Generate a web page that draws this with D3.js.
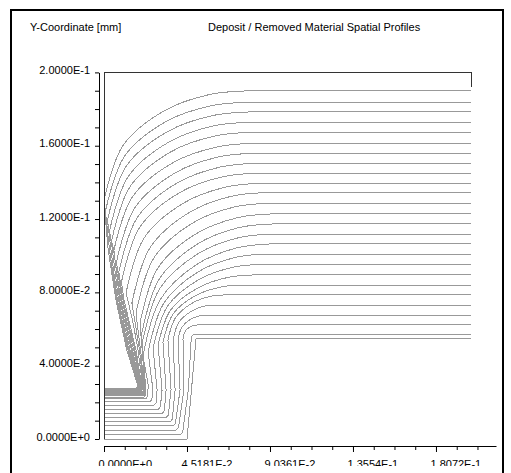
<!DOCTYPE html>
<html>
<head>
<meta charset="utf-8">
<script src="https://cdnjs.cloudflare.com/ajax/libs/d3/7.8.5/d3.min.js"></script>
<style>
  body { margin: 0; background: #fff; }
  svg { display: block; font-family: "Liberation Sans", Arial, sans-serif; font-size: 11px; }
  .profile { fill: none; stroke: #999; stroke-width: 1; shape-rendering: crispEdges; }
  .domain-box { fill: none; stroke: #333; stroke-width: 1; shape-rendering: crispEdges; }
  .axis path, .axis line { stroke: #000; }
  .axis text { fill: #000; font-size: 11px; font-family: "Liberation Sans", Arial, sans-serif; }
</style>
</head>
<body>
<div id="chart"></div>
<script>
var titleText = 'Deposit / Removed Material Spatial Profiles';
var yAxisTitle = 'Y-Coordinate [mm]';

var xTickValues = [0, 0.045181, 0.090361, 0.13554, 0.18072];
var xTickLabels = ['0.0000E+0', '4.5181E-2', '9.0361E-2', '1.3554E-1', '1.8072E-1'];
var yTickValues = [0, 0.04, 0.08, 0.12, 0.16, 0.2];
var yTickLabels = ['0.0000E+0', '4.0000E-2', '8.0000E-2', '1.2000E-1', '1.6000E-1', '2.0000E-1'];

// profile points are in 1e-3 mm; the last 6 points of each profile are the
// rounded top (arc start .. arc end) and the flat run to the right edge
var UNIT = 1e-3;
var domainBox = [[0, 0], [0, 200], [200, 200], [200, 192]];
var substrate = [[0, 0], [45.2, 0], [50.1, 54.6], [200, 54.6]];
var profiles = [
  [[0,2.2],[41.5,2.2],[42.8,3.5],[45.9,26.7],[47.5,55.3],[47.8,56.2],[48.6,56.8],[49.4,57.0],[50.0,57.1],[200,57.1]],
  [[0,4.9],[39.3,4.9],[40.6,6.3],[43.5,26.7],[43.0,54.6],[44.0,58.4],[46.2,60.8],[48.6,61.9],[50.6,62.2],[200,62.2]],
  [[0,7.3],[37.7,7.3],[38.9,8.6],[41.4,26.7],[40.3,54.0],[42.3,60.8],[46.8,65.1],[51.6,67.1],[55.5,67.6],[200,67.6]],
  [[0,9.4],[36.0,9.4],[37.2,10.8],[38.7,26.7],[37.6,54.0],[40.7,63.6],[47.4,69.6],[54.6,72.5],[60.5,73.1],[200,73.1]],
  [[0,11.6],[33.8,11.6],[35.0,13.0],[36.5,26.7],[34.8,54.0],[39.0,66.3],[48.0,74.1],[57.8,77.8],[65.8,78.6],[200,78.6]],
  [[0,14.0],[31.7,14.0],[32.9,15.4],[33.8,26.7],[32.1,52.9],[37.8,68.5],[50.2,78.4],[63.6,82.9],[74.6,84.0],[200,84.0]],
  [[0,16.2],[29.5,16.2],[30.7,17.6],[31.6,26.7],[29.4,51.3],[36.3,70.4],[51.4,82.6],[67.7,88.2],[81.1,89.5],[200,89.5]],
  [[0,18.5],[27.3,18.5],[28.5,19.9],[28.9,26.7],[26.7,49.7],[34.6,72.5],[51.7,87.0],[70.3,93.7],[85.5,95.3],[200,95.3]],
  [[0,20.4],[25.1,20.4],[26.1,21.6],[26.5,28.0],[24.0,47.5],[32.6,74.2],[51.3,91.2],[71.6,99.1],[88.2,100.9],[200,100.9]],
  [[0,22.2],[23.0,22.2],[23.9,23.4],[24.0,30.0],[21.2,45.3],[30.5,75.9],[50.6,95.3],[72.4,104.3],[90.3,106.4],[200,106.4]],
  [[0,22.9],[21.9,22.9],[22.8,24.0],[22.2,35.0],[20.7,51.8],[30.2,81.8],[50.9,100.9],[73.2,109.8],[91.5,111.8],[200,111.8]],
  [[0,23.5],[21.6,23.5],[22.5,24.6],[21.9,38.0],[20.5,57.3],[30.1,87.3],[50.9,106.4],[73.3,115.3],[91.8,117.3],[200,117.3]],
  [[0,24.0],[21.3,24.0],[22.2,25.1],[21.3,42.0],[19.6,63.3],[29.2,93.1],[50.2,112.0],[72.9,120.8],[91.5,122.8],[200,122.8]],
  [[0,24.5],[21.1,24.5],[22.0,25.6],[20.3,45.0],[17.4,68.7],[27.1,98.7],[48.2,117.8],[71.0,126.6],[89.8,128.6],[200,128.6]],
  [[0,25.0],[20.8,25.0],[21.7,26.1],[19.4,48.0],[15.2,74.2],[25.0,104.3],[46.3,123.5],[69.2,132.4],[88.1,134.4],[200,134.4]],
  [[0,25.4],[20.5,25.4],[21.4,26.5],[18.3,50.0],[15.5,65.0],[12.0,79.7],[21.8,109.6],[43.3,128.7],[66.5,137.5],[85.5,139.5],[200,139.5]],
  [[0,25.8],[20.0,25.8],[20.9,26.9],[17.4,48.6],[10.9,75.8],[9.5,85.7],[19.4,115.4],[41.0,134.3],[64.3,143.0],[83.5,145.0],[200,145.0]],
  [[0,26.2],[19.7,26.2],[20.6,27.3],[16.8,48.6],[10.3,75.8],[8.1,91.1],[18.1,120.8],[39.9,139.7],[63.4,148.4],[82.7,150.4],[200,150.4]],
  [[0,26.5],[19.4,26.5],[20.3,27.6],[16.2,48.6],[9.7,75.8],[6.8,96.6],[16.9,126.3],[38.8,145.2],[62.4,153.9],[81.9,155.9],[200,155.9]],
  [[0,26.8],[19.1,26.8],[20.0,27.9],[15.5,48.6],[9.1,75.8],[5.3,102.6],[15.4,132.0],[37.5,150.7],[61.4,159.3],[81.0,161.3],[200,161.3]],
  [[0,27.1],[18.8,27.1],[19.7,28.2],[14.9,48.6],[8.5,75.8],[5.4,103.1],[4.1,108.0],[14.2,137.7],[36.3,156.6],[60.2,165.3],[79.8,167.3],[200,167.3]],
  [[0,27.3],[18.5,27.3],[19.4,28.4],[14.2,48.6],[7.9,75.8],[4.6,103.1],[3.0,113.5],[13.2,143.2],[35.5,162.1],[59.5,170.8],[79.2,172.8],[200,172.8]],
  [[0,27.5],[18.2,27.5],[19.1,28.6],[13.6,48.6],[7.3,75.8],[3.8,103.1],[1.9,119.5],[12.2,149.0],[34.6,167.7],[58.8,176.4],[78.7,178.4],[200,178.4]],
  [[0,27.7],[17.9,27.7],[18.8,28.8],[13.0,48.6],[6.9,75.8],[3.0,103.1],[1.0,122.2],[0.9,124.9],[11.2,154.3],[33.6,173.1],[57.8,181.7],[77.7,183.7],[200,183.7]],
  [[0,27.8],[17.6,27.8],[18.5,28.9],[12.4,48.6],[6.5,75.8],[2.3,103.1],[0.6,122.2],[0,130.4],[10.4,160.2],[32.9,179.1],[57.3,187.9],[77.3,189.9],[200,189.9]]
];

function profile_chart(container) {
  var _chart = {};

  var _width = 511, _height = 473,
      _svg = container.append('svg'),
      _x = d3.scaleLinear().domain([0, 0.2134]).range([104, 496]),
      _y = d3.scaleLinear().domain([0, 0.2]).range([439, 72.4]),
      _xAxisY = 446, _yAxisX = 99;

  var _straight = d3.line()
        .x(function(p) { return _x(p[0] * UNIT); })
        .y(function(p) { return _y(p[1] * UNIT); }),
      _smooth = d3.line()
        .x(function(p) { return _x(p[0] * UNIT); })
        .y(function(p) { return _y(p[1] * UNIT); })
        .curve(d3.curveCatmullRom.alpha(0.5));

  _chart.render = function() {
    _svg.attr('width', _width).attr('height', _height);

    // the control clips the bottom tick labels
    _svg.append('defs').append('clipPath')
      .attr('id', 'label-clip')
      .append('rect')
        .attr('x', 0).attr('y', 0)
        .attr('width', _width).attr('height', 466);

    _svg.append('rect')
      .attr('x', 11).attr('y', 10)
      .attr('width', 492).attr('height', 480)
      .attr('fill', '#fff').attr('stroke', '#000').attr('stroke-width', 2);

    renderTitles();
    renderAxes();
    renderProfiles();
  };

  function renderTitles() {
    _svg.append('text').attr('x', 30).attr('y', 31).text(yAxisTitle);
    _svg.append('text').attr('x', 208).attr('y', 31).text(titleText);
  }

  function renderAxes() {
    var xStep = xTickValues[1] / 4;
    var xMinor = d3.range(0, 0.2134, xStep);
    var yMinor = d3.range(0, 0.2001, 0.01);

    _svg.append('g')
      .attr('class', 'axis')
      .attr('transform', 'translate(0,' + _xAxisY + ')')
      .call(d3.axisBottom(_x).tickValues(xMinor).tickSize(4).tickSizeOuter(0).tickFormat(''));

    var gx = _svg.append('g')
      .attr('clip-path', 'url(#label-clip)')
      .append('g')
      .attr('class', 'axis')
      .attr('transform', 'translate(0,' + _xAxisY + ')')
      .call(d3.axisBottom(_x).tickValues(xTickValues).tickSize(6)
        .tickFormat(function(d, i) { return xTickLabels[i]; }));
    gx.select('.domain').remove();
    gx.selectAll('text')
      .attr('text-anchor', 'start')
      .attr('x', -6).attr('y', 14);

    var gy = _svg.append('g')
      .attr('class', 'axis')
      .attr('transform', 'translate(' + _yAxisX + ',0)')
      .call(d3.axisLeft(_y).tickValues(yMinor).tickSize(4).tickSizeOuter(0)
        .tickFormat(function(d) {
          var i = yTickValues.findIndex(function(v) { return Math.abs(v - d) < 1e-9; });
          return i < 0 ? '' : yTickLabels[i];
        }));
    gy.selectAll('text').attr('x', -9).attr('dy', 1);
  }

  // straight trench bottom and wall, smooth rounded top, straight flat run
  function profilePath(pts) {
    var n = pts.length;
    var wall = pts.slice(0, n - 5),
        arc = pts.slice(n - 6, n - 1),
        last = pts[n - 1];
    return _straight(wall) +
      _smooth(arc).replace(/^M/, 'L') +
      'L' + _x(last[0] * UNIT) + ',' + _y(last[1] * UNIT);
  }

  function renderProfiles() {
    var g = _svg.append('g').attr('class', 'profiles');

    g.append('path')
      .attr('class', 'profile')
      .attr('d', _straight(substrate));

    g.selectAll('path.layer')
      .data(profiles)
      .enter().append('path')
        .attr('class', 'profile layer')
        .attr('d', profilePath);

    g.append('path')
      .attr('class', 'domain-box')
      .attr('d', _straight(domainBox));
  }

  return _chart;
}

profile_chart(d3.select('#chart')).render();
</script>
</body>
</html>
